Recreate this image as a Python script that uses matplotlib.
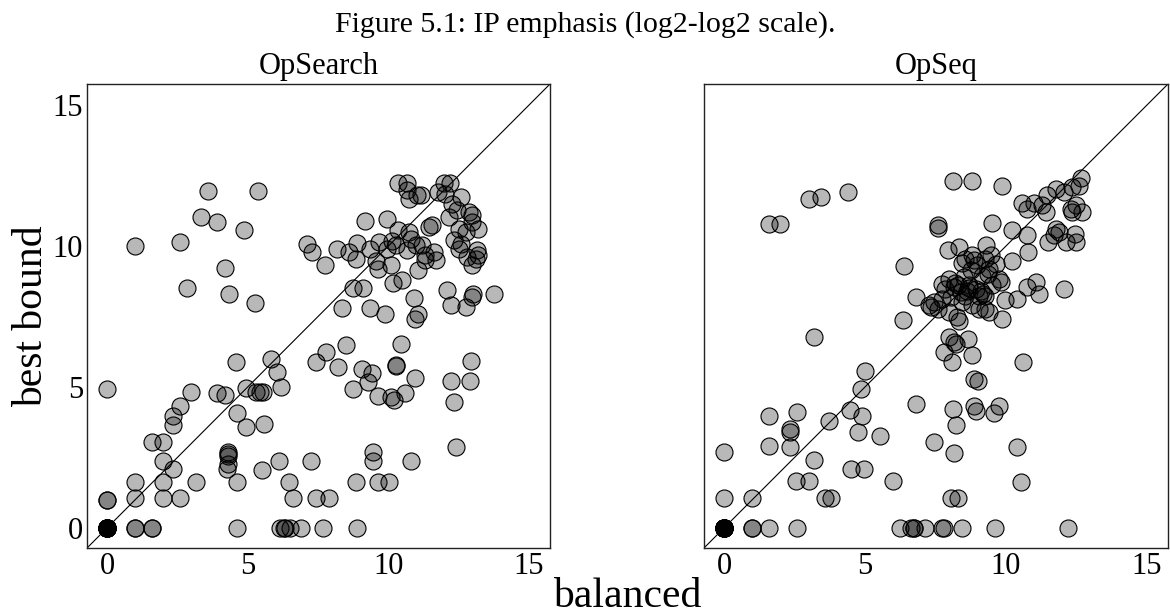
import matplotlib
matplotlib.use("Agg")
import matplotlib.pyplot as plt

plt.rcParams['font.family'] = ['Liberation Serif', 'DejaVu Serif']

# ---- OpSearch (left panel) ----
opsearch_x = [0.0] * 14 + [
    0.0, 0.0, 1.0, 1.0, 1.59, 1.59, 0.0, 1.0, 1.0, 1.59, 1.99, 1.99, 2.32, 1.99,
    1.99, 2.59, 2.32, 2.32, 2.59, 2.99, 3.17, 3.89, 4.19, 4.28, 4.30, 4.31, 4.29,
    4.25, 4.57, 4.63, 4.63, 4.63, 4.93, 4.95, 5.28, 5.45, 5.55, 5.58, 5.52, 5.82,
    6.03, 6.17, 6.11, 6.47, 6.59, 6.15, 6.29, 6.32, 6.50,
    8.48, 7.77, 7.44, 8.20, 9.07, 9.41, 9.29, 8.74, 9.64, 10.08, 10.20, 10.26,
    10.28, 10.44, 10.59, 10.93, 12.24, 12.89, 12.95, 12.35, 12.41, 7.24, 9.45,
    9.47, 10.79, 8.84, 9.63, 10.02, 7.44, 7.87, 6.88, 7.69, 8.90,
    1.0, 2.57, 3.32, 3.58, 3.90, 4.86, 5.36, 4.17, 2.82, 4.32, 5.24,
    7.09, 7.30, 7.75, 8.16, 8.60, 8.90, 8.86, 9.16, 9.33, 9.67, 9.96, 9.55, 9.64,
    10.12, 10.26, 9.96, 10.34, 10.67, 10.73, 10.79, 10.97, 11.20, 11.32, 11.44,
    11.56, 11.62, 11.68, 11.29, 11.06, 10.08, 10.18, 10.47, 8.75, 9.11, 8.36,
    9.35, 9.88, 10.91, 11.06, 10.94, 12.09, 12.21, 12.77, 13.02, 12.96, 13.75,
    10.34, 10.65, 10.67, 10.73, 11.03, 11.15, 11.77, 11.98, 12.18, 12.01, 12.27,
    12.60, 12.45, 12.15, 12.86, 12.96, 12.51, 12.75, 13.20, 12.98, 12.33, 12.57,
    12.51, 12.78, 13.16, 13.20, 13.10, 12.98,
]
opsearch_y = [0.0] * 14 + [
    1.0, 1.0, 0.0, 0.0, 0.0, 0.0, 4.92, 1.64, 1.04, 3.05, 3.05, 2.37, 2.07, 1.64,
    1.04, 1.04, 3.64, 3.97, 4.31, 4.83, 1.64, 4.78, 4.71, 2.67, 2.60, 2.55, 2.25,
    2.07, 5.87, 4.07, 1.64, 0.0, 4.95, 3.56, 4.83, 4.83, 4.83, 3.68, 2.05, 5.99,
    5.52, 4.98, 2.37, 1.64, 1.04, 0.0, 0.0, 0.0, 0.0,
    6.49, 6.25, 5.87, 5.69, 5.63, 5.49, 5.16, 4.92, 4.66, 4.63, 4.54, 5.78,
    5.75, 6.52, 4.78, 5.30, 5.19, 5.19, 5.93, 4.47, 2.88, 2.37, 2.67,
    2.37, 2.37, 1.64, 1.64, 1.64, 1.04, 1.04, 0.0, 0.0, 0.0,
    10.0, 10.14, 11.03, 11.94, 10.85, 10.58, 11.94, 9.23, 8.50, 8.31, 7.98,
    10.06, 9.79, 9.33, 9.88, 9.79, 10.12, 9.55, 10.88, 9.90, 10.14, 10.95, 9.45, 9.19,
    10.16, 10.02, 9.90, 10.56, 9.85, 10.50, 10.26, 10.02, 10.02, 9.67, 10.68,
    10.74, 9.79, 9.49, 9.49, 9.13, 9.31, 8.69, 8.78, 8.50, 8.50, 7.79,
    7.79, 7.59, 8.15, 7.59, 7.41, 8.42, 7.91, 7.82, 8.30, 8.18, 8.30,
    12.22, 12.22, 11.98, 11.68, 11.80, 11.80, 11.92, 12.22, 12.25, 11.86, 11.50,
    11.74, 11.27, 11.03, 11.21, 11.09, 10.62, 10.50, 10.59, 10.85, 10.20, 10.08,
    9.90, 9.61, 9.84, 9.67, 9.55, 9.31,
]

# ---- OpSeq (right panel) ----
opseq_x = [0.0] * 14 + [
    0.0, 0.0, 1.0, 1.0, 1.0, 1.57, 2.58, 1.57, 1.57, 2.32, 2.32, 2.32, 2.58,
    3.17, 3.17, 2.55, 2.99, 3.59, 3.80, 3.71, 4.48, 4.89, 4.75, 5.01, 4.86, 4.51,
    4.95, 5.54, 5.98,
    6.22, 6.61, 6.73, 6.75, 7.14, 7.73, 7.80, 8.44, 9.61, 12.21,
    7.97, 8.15, 8.21, 8.66, 7.79, 8.09, 8.78, 10.60, 8.86, 9.00, 6.79, 8.11, 8.86,
    8.92, 9.75, 9.57, 8.21, 7.44, 8.15, 10.40, 10.54, 8.03, 8.30,
    1.57, 1.99, 3.00, 3.45, 4.38, 6.37, 6.81, 7.26, 6.34,
    8.11, 8.80, 9.87, 7.58, 7.58, 9.49, 10.20, 10.73, 10.78, 10.22, 7.95, 8.33,
    9.30, 10.58, 10.99, 10.75, 11.29, 11.47, 11.76, 12.06, 12.35, 12.65, 12.59,
    11.41, 12.30, 12.35, 12.47, 12.71, 11.76, 11.88, 11.70, 11.50, 12.12, 12.45,
    12.47,
    8.56, 8.80, 8.98, 8.74, 9.27, 9.45, 9.63, 9.39, 9.16, 9.75, 9.81, 9.51, 7.97,
    7.73, 7.85, 8.15, 8.39, 8.68, 8.56, 8.92, 9.04, 9.27, 8.03, 7.73, 7.44, 7.32,
    7.59, 7.97, 8.27, 8.33, 9.04, 9.27, 9.39, 9.98, 10.40, 10.75, 11.05, 11.17,
    12.06, 9.87, 8.80, 8.44,
    8.60, 8.70, 8.30, 8.45, 9.10, 9.35, 8.85, 8.50, 9.20, 8.20,
]
opseq_y = [0.0] * 14 + [
    1.07, 2.67, 1.04, 0.0, 0.0, 0.0, 0.0, 3.97, 2.91, 3.50, 3.40, 2.88, 4.09,
    6.76, 2.41, 1.66, 1.66, 1.07, 1.07, 3.80, 4.19, 3.97, 3.38, 5.55, 4.92, 2.07,
    2.07, 3.24, 1.66,
    0.0, 0.0, 0.0, 0.0, 0.0, 0.0, 0.0, 0.0, 0.0, 0.0,
    6.76, 6.58, 6.52, 6.70, 6.23, 5.89, 6.13, 5.87, 5.28, 5.19, 4.39, 4.23, 4.31,
    4.15, 4.33, 4.07, 3.64, 3.06, 2.64, 2.88, 1.64, 1.04, 1.04,
    10.77, 10.79, 11.66, 11.74, 11.92, 9.29, 8.18, 7.89, 7.39,
    12.30, 12.30, 12.13, 10.74, 10.65, 10.83, 10.56, 10.38, 9.79, 9.45, 9.85, 9.96,
    10.02, 11.54, 11.51, 11.30, 11.45, 11.80, 12.04, 11.92, 12.10, 12.40, 12.13,
    11.21, 11.33, 11.21, 11.45, 11.21, 10.62, 10.50, 10.38, 10.14, 10.14, 10.44,
    10.14,
    9.55, 9.67, 9.31, 9.13, 9.55, 9.67, 9.37, 9.19, 8.95, 8.84, 8.72, 8.60, 8.84,
    8.66, 8.48, 8.54, 8.36, 8.60, 8.24, 8.48, 8.24, 8.24, 8.18, 8.12, 8.00, 7.83,
    7.77, 7.65, 7.47, 7.35, 7.77, 7.77, 7.65, 8.07, 8.12, 8.54, 8.72, 8.30,
    8.46, 7.41, 7.89, 8.00,
    8.40, 8.50, 8.60, 9.40, 8.40, 9.00, 9.50, 8.90, 8.30, 8.70,
]

panels = [("OpSearch", opsearch_x, opsearch_y), ("OpSeq", opseq_x, opseq_y)]
lims = (-0.72, 15.75)
ticks = [0, 5, 10, 15]

fig = plt.figure(figsize=(11.7, 6.14), dpi=100)
axes = [fig.add_axes([0.0744, 0.1075, 0.3957, 0.7557]),
        fig.add_axes([0.6017, 0.1075, 0.3966, 0.7557])]

for i, (ax, (name, xs, ys)) in enumerate(zip(axes, panels)):
    ax.axline((0, 0), slope=1, color='black', lw=0.8, zorder=1)
    ax.scatter(xs, ys, s=150, facecolors=(0, 0, 0, 0.28), edgecolors='black',
               linewidths=0.8, zorder=2)
    ax.set_xlim(lims)
    ax.set_ylim(lims)
    ax.set_xticks(ticks)
    ax.set_yticks(ticks)
    ax.tick_params(length=0, labelsize=22, pad=3)
    if i == 1:
        ax.tick_params(labelleft=False)
    ax.set_title(name, fontsize=22, pad=7)
    for sp in ax.spines.values():
        sp.set_linewidth(1.0)
        sp.set_color('#222222')

axes[0].set_ylabel("best bound", fontsize=30, labelpad=1)
fig.text(0.5363, 1 - 606.7 / 614, "balanced", fontsize=30, ha='center', va='baseline')
fig.text(0.5, 1 - 32 / 614, "Figure 5.1: IP emphasis (log2-log2 scale).",
         fontsize=21.5, ha='center', va='baseline')

fig.savefig("out.png", dpi=100)
